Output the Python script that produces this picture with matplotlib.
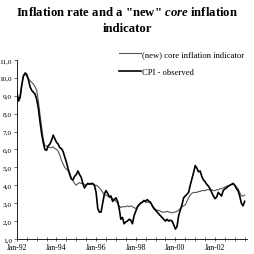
import numpy as np
import pandas as pd
import matplotlib
matplotlib.use("Agg")
import matplotlib.pyplot as plt
import matplotlib.dates as mdates
from matplotlib.ticker import FuncFormatter

# monthly values, Jan-92 onward
cpi = [9.2, 8.7, 8.9, 9.6, 10.1, 10.27, 10.2, 9.9, 9.5, 9.3, 9.2, 9.1,
       8.8, 8.3, 7.6, 6.9, 6.4, 6.0, 5.95, 6.2, 6.3, 6.5, 6.8, 6.6,
       6.4, 6.3, 6.1, 6.05, 5.9, 5.6, 5.3, 4.95, 4.6, 4.35, 4.3, 4.5,
       4.6, 4.8, 4.6, 4.45, 4.1, 3.85, 4.0, 4.1, 4.05, 4.1, 4.1, 4.0,
       3.6, 2.7, 2.5, 2.5, 3.0, 3.5, 3.7, 3.55, 3.35, 3.4, 3.1, 3.2,
       3.3, 3.1, 2.7, 2.1, 2.2, 1.85, 1.95, 2.0, 2.1, 2.05, 1.85, 2.3,
       2.55, 2.8, 2.9, 3.0, 3.05, 3.15, 3.1, 3.2, 3.1, 3.05, 2.85, 2.7,
       2.6, 2.5, 2.4, 2.3, 2.2, 2.1, 2.0, 2.1, 2.0, 2.05, 2.0, 1.8,
       1.55, 1.7, 2.3, 2.6, 2.9, 3.3, 3.4, 3.5, 3.6, 4.0, 4.35, 4.7,
       5.1, 4.95, 4.75, 4.8, 4.5, 4.3, 4.2, 4.05, 3.95, 3.8, 3.6, 3.4,
       3.25, 3.35, 3.6, 3.5, 3.4, 3.7, 3.8, 3.85, 3.95, 4.0, 4.05, 4.1,
       4.0, 3.8, 3.7, 3.4, 3.0, 2.85, 3.1]

core = [9.1, 8.8, 9.0, 9.6, 10.1, 10.2, 10.1, 9.95, 9.85, 9.75, 9.65, 9.5,
        9.3, 8.7, 8.0, 7.3, 6.6, 6.2, 6.2, 6.15, 6.1, 6.1, 6.15, 6.05,
        6.0, 5.9, 5.7, 5.4, 5.2, 5.0, 4.9, 4.8, 4.7, 4.4, 4.25, 4.1,
        4.0, 4.1, 4.15, 4.1, 4.1, 4.05, 4.0, 4.1, 4.1, 4.05, 4.05, 4.0,
        4.0, 3.95, 3.85, 3.75, 3.6, 3.5, 3.45, 3.4, 3.35, 3.3, 3.25, 3.2,
        3.1, 3.0, 2.85, 2.75, 2.8, 2.8, 2.8, 2.85, 2.8, 2.85, 2.8, 2.75,
        2.7, 2.75, 2.9, 3.0, 3.05, 3.1, 3.05, 3.05, 3.05, 3.0, 2.9, 2.75,
        2.65, 2.6, 2.6, 2.55, 2.5, 2.5, 2.5, 2.55, 2.5, 2.5, 2.45, 2.5,
        2.5, 2.55, 2.6, 2.7, 2.8, 2.85, 2.9, 3.1, 3.3, 3.45, 3.55, 3.6,
        3.6, 3.6, 3.65, 3.65, 3.7, 3.7, 3.7, 3.75, 3.75, 3.75, 3.75, 3.7,
        3.7, 3.75, 3.75, 3.8, 3.8, 3.85, 3.9, 3.95, 3.95, 4.0, 4.05, 4.05,
        4.0, 3.9, 3.8, 3.6, 3.4, 3.4, 3.45]

dates = pd.date_range("1992-01-01", periods=len(cpi), freq="MS")

plt.rcParams['font.family'] = ['Liberation Serif', 'DejaVu Serif']
plt.rcParams['mathtext.fontset'] = 'custom'
plt.rcParams['mathtext.it'] = 'Liberation Serif:italic:bold'
plt.rcParams['mathtext.rm'] = 'Liberation Serif:bold'

fig = plt.figure(figsize=(2.55, 2.55), dpi=100)
ax = fig.add_axes([0.066, 0.059, 0.903, 0.702])

ax.plot(dates, core, color='#555555', lw=0.8, label="(new) core inflation indicator")
ax.plot(dates, cpi, color='black', lw=1.2, label="CPI - observed")

ax.set_ylim(1, 11)
ax.set_yticks(np.arange(1, 12, 1))
ax.yaxis.set_major_formatter(FuncFormatter(lambda v, p: f"{v:.1f}".replace('.', ',')))
ax.set_xlim(pd.Timestamp("1992-01-01"), pd.Timestamp("2003-08-15"))
ax.xaxis.set_major_locator(mdates.YearLocator(2, month=1, day=1))
ax.xaxis.set_major_formatter(mdates.DateFormatter('%b-%y'))
ax.xaxis.set_minor_locator(mdates.MonthLocator(bymonth=[1, 7]))

ax.spines['top'].set_visible(False)
ax.spines['right'].set_visible(False)
for s in ['left', 'bottom']:
    ax.spines[s].set_linewidth(0.6)
ax.tick_params(axis='y', labelsize=5.2, length=2.5, width=0.6, pad=1, color='#555555')
ax.tick_params(axis='x', which='both', labelsize=5.6, length=2.5, width=0.6, direction='inout', pad=1.5, color='#555555')

fig.text(0.5, 0.975, 'Inflation rate and a "new" $\\mathit{core}$ inflation\nindicator',
         ha='center', va='top', fontsize=9.2, fontweight='bold', linespacing=1.4)

leg = ax.legend(loc='upper left', bbox_to_anchor=(0.468, 0.80), bbox_transform=fig.transFigure,
                frameon=False, fontsize=6.2, handlelength=2.55, handletextpad=0.1,
                labelspacing=1.2, borderaxespad=0, borderpad=0)

fig.savefig("out.png", dpi=100)
